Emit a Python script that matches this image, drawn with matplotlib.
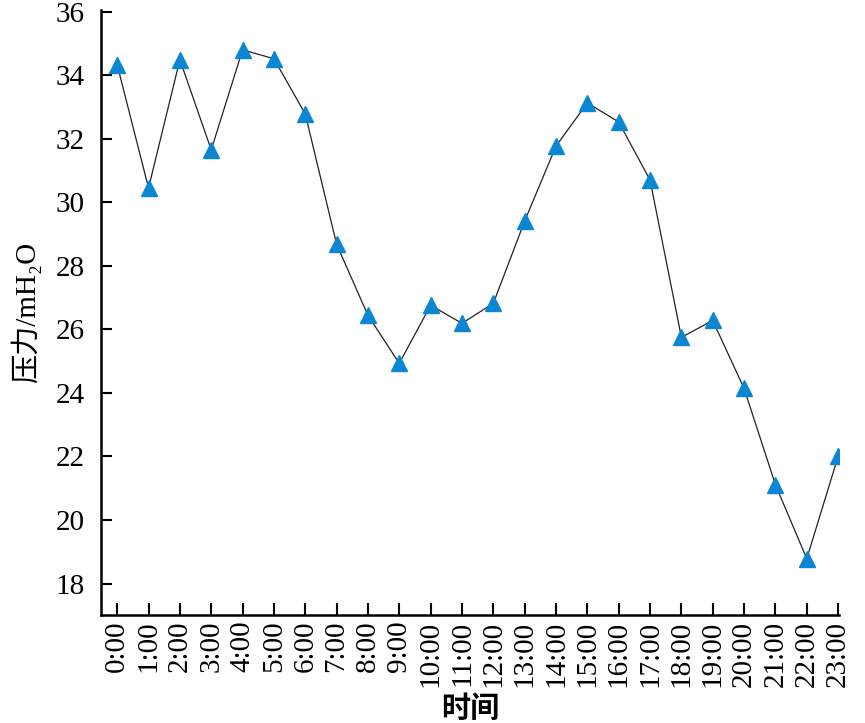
import matplotlib
matplotlib.use("Agg")
import matplotlib.pyplot as plt

hours = [f"{h}:00" for h in range(24)]
pressure = [34.33, 30.45, 34.49, 31.65, 34.80, 34.52, 32.78, 28.68, 26.44, 24.93,
            26.76, 26.19, 26.82, 29.41, 31.77, 33.13, 32.53, 30.70, 25.75, 26.28,
            24.14, 21.11, 18.78, 22.00]
y_ticks = [18, 20, 22, 24, 26, 28, 30, 32, 34, 36]

plt.rcParams["font.family"] = ["Liberation Serif", "Noto Sans CJK SC", "DejaVu Serif"]

fig = plt.figure(figsize=(8.65, 7.23), dpi=100)
ax = fig.add_axes([0.117, 0.149, 0.853, 0.837])

x = list(range(len(hours)))
ax.plot(x, pressure, color="#222222", linewidth=0.9, marker="^",
        markersize=11, markerfacecolor="#0A86D2", markeredgecolor="#0A86D2")

ax.set_xlim(-0.51, 23.03)
ax.set_ylim(17.0, 36.05)
ax.set_xticks(x)
ax.set_xticklabels(hours, rotation=90, fontsize=21)
ax.set_yticks(y_ticks)
ax.tick_params(axis="y", labelsize=21, direction="in", length=8, width=1.5, pad=12)
ax.tick_params(axis="x", direction="in", length=9, width=1.5, pad=4)

for side in ("top", "right"):
    ax.spines[side].set_visible(False)
for side in ("left", "bottom"):
    ax.spines[side].set_linewidth(1.8)

ax.set_xlabel("时间", fontsize=21, fontweight="bold", labelpad=6)
ax.set_ylabel("压力/mH\u2082O", fontsize=21, labelpad=10)

fig.savefig("out.png", dpi=100)
